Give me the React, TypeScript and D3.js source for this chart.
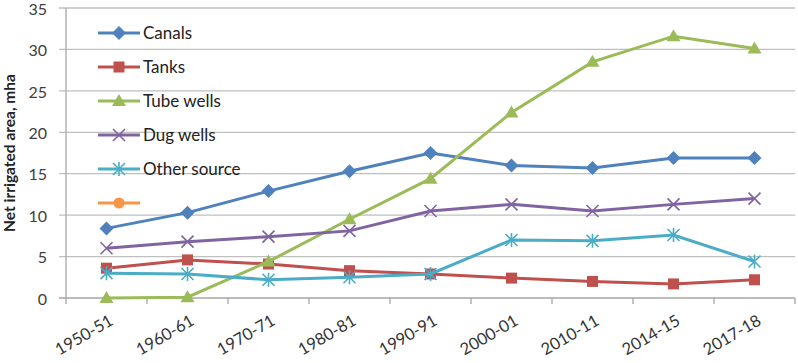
import { useEffect, useRef } from 'react'
import * as d3 from 'd3'

const categories = ['1950-51', '1960-61', '1970-71', '1980-81', '1990-91', '2000-01', '2010-11', '2014-15', '2017-18']
const canals = [8.4, 10.3, 12.9, 15.3, 17.5, 16.0, 15.7, 16.9, 16.9]
const tanks = [3.6, 4.6, 4.1, 3.3, 2.9, 2.4, 2.0, 1.7, 2.2]
const tubeWells = [0, 0.1, 4.4, 9.5, 14.4, 22.4, 28.5, 31.6, 30.1]
const dugWells = [6.0, 6.8, 7.4, 8.1, 10.5, 11.3, 10.5, 11.3, 12.0]
const otherSource = [3.0, 2.9, 2.2, 2.5, 2.9, 7.0, 6.9, 7.6, 4.4]
const yTicks = [0, 5, 10, 15, 20, 25, 30, 35]

const SERIES = [
  { name: 'Canals', values: canals, color: '#4F81BD', marker: 'diamond' },
  { name: 'Tanks', values: tanks, color: '#C0504D', marker: 'square' },
  { name: 'Tube wells', values: tubeWells, color: '#9BBB59', marker: 'triangle' },
  { name: 'Dug wells', values: dugWells, color: '#8064A2', marker: 'x' },
  { name: 'Other source', values: otherSource, color: '#4BACC6', marker: 'star' },
  { name: '', values: [] as number[], color: '#F79646', marker: 'circle' },
]

const W = 798
const H = 363
const FONT = 'Lato, "Open Sans", sans-serif'

function drawMarker(g: d3.Selection<SVGGElement, unknown, null, undefined>, type: string, x: number, y: number, color: string) {
  if (type === 'diamond') {
    g.append('path').attr('d', `M${x},${y - 7}L${x + 7},${y}L${x},${y + 7}L${x - 7},${y}Z`).attr('fill', color)
  } else if (type === 'square') {
    g.append('rect').attr('x', x - 5.5).attr('y', y - 5.5).attr('width', 11).attr('height', 11).attr('fill', color)
  } else if (type === 'triangle') {
    g.append('path').attr('d', `M${x},${y - 7}L${x + 7},${y + 5}L${x - 7},${y + 5}Z`).attr('fill', color)
  } else if (type === 'x') {
    g.append('path').attr('d', `M${x - 6},${y - 6}L${x + 6},${y + 6}M${x - 6},${y + 6}L${x + 6},${y - 6}`)
      .attr('stroke', color).attr('stroke-width', 1.6)
  } else if (type === 'star') {
    g.append('path').attr('d', `M${x - 6},${y - 6}L${x + 6},${y + 6}M${x - 6},${y + 6}L${x + 6},${y - 6}M${x},${y - 7}L${x},${y + 7}`)
      .attr('stroke', color).attr('stroke-width', 1.6)
  } else if (type === 'circle') {
    g.append('circle').attr('cx', x).attr('cy', y).attr('r', 5.5).attr('fill', color)
  }
}

export default function App() {
  const svgRef = useRef<SVGSVGElement>(null)

  useEffect(() => {
    if (!svgRef.current) return
    const svg = d3.select(svgRef.current)
    svg.selectAll('*').remove()

    const left = 66
    const right = 795
    const top = 8
    const bottom = 298

    const x = d3.scaleBand().domain(categories).range([left, right])
    const y = d3.scaleLinear().domain([0, 35]).range([bottom, top])

    const g = svg.append('g')

    // gridlines + y tick marks
    g.append('g')
      .selectAll('line')
      .data(yTicks)
      .join('line')
      .attr('x1', left - 7)
      .attr('x2', right)
      .attr('y1', d => y(d))
      .attr('y2', d => y(d))
      .attr('stroke', d => (d === 0 ? '#a6a6a6' : '#bfbfbf'))
      .attr('stroke-width', 1.3)

    // y axis line
    g.append('line')
      .attr('x1', left).attr('x2', left).attr('y1', top).attr('y2', bottom)
      .attr('stroke', '#a6a6a6').attr('stroke-width', 1.3)

    // x tick marks at band boundaries
    const bounds = categories.map(c => x(c)!).concat([right])
    g.append('g')
      .selectAll('line')
      .data(bounds)
      .join('line')
      .attr('x1', d => d).attr('x2', d => d)
      .attr('y1', bottom).attr('y2', bottom + 6)
      .attr('stroke', '#a6a6a6').attr('stroke-width', 1.3)

    // y tick labels
    g.append('g')
      .selectAll('text')
      .data(yTicks)
      .join('text')
      .attr('x', 47)
      .attr('y', d => y(d) + 1)
      .attr('dy', '0.36em')
      .attr('text-anchor', 'end')
      .attr('font-family', FONT)
      .attr('font-size', 16)
      .attr('fill', '#404040')
      .text(d => d)

    // x tick labels
    g.append('g')
      .selectAll('text')
      .data(categories)
      .join('text')
      .attr('transform', d => `translate(${x(d)! + x.bandwidth() / 2 + 5},${bottom + 21}) rotate(-30)`)
      .attr('text-anchor', 'end')
      .attr('dy', '0.35em')
      .attr('font-family', FONT)
      .attr('font-size', 16.5)
      .attr('fill', '#333')
      .text(d => d)

    // y axis title
    g.append('text')
      .attr('transform', `translate(10,153) rotate(-90)`)
      .attr('text-anchor', 'middle')
      .attr('dy', '0.35em')
      .attr('font-family', FONT)
      .attr('font-weight', 'bold')
      .attr('font-size', 15.5)
      .attr('fill', '#222')
      .text('Net irrigated area, mha')

    const line = d3.line<number>()
      .x((_, i) => x(categories[i])! + x.bandwidth() / 2)
      .y(d => y(d))

    SERIES.filter(s => s.values.length).forEach(s => {
      const sg = g.append('g')
      sg.append('path')
        .attr('d', line(s.values))
        .attr('fill', 'none')
        .attr('stroke', s.color)
        .attr('stroke-width', 3)
      s.values.forEach((v, i) => {
        drawMarker(sg, s.marker, x(categories[i])! + x.bandwidth() / 2, y(v), s.color)
      })
    })

    // legend
    const lg = g.append('g')
    SERIES.forEach((s, i) => {
      const ly = 33 + i * 34
      lg.append('line')
        .attr('x1', 98).attr('x2', 140).attr('y1', ly).attr('y2', ly)
        .attr('stroke', s.color).attr('stroke-width', 3)
      drawMarker(lg, s.marker, 119, ly, s.color)
      if (s.name) {
        lg.append('text')
          .attr('x', 143)
          .attr('y', ly)
          .attr('dy', '0.35em')
          .attr('font-family', FONT)
          .attr('font-size', 17)
          .attr('fill', '#222')
          .text(s.name)
      }
    })
  }, [])

  return (
    <svg
      ref={svgRef}
      width={W}
      height={H}
      style={{ position: 'absolute', left: 0, top: 0, background: '#fff' }}
    />
  )
}
